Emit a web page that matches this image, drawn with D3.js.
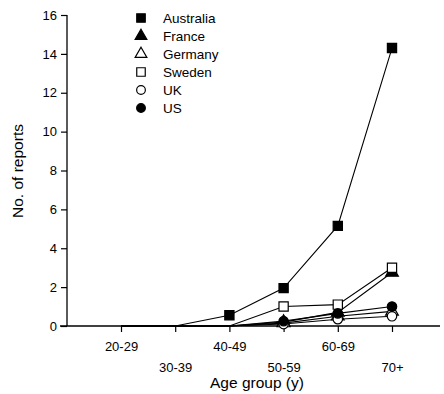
<!DOCTYPE html>
<html><head><meta charset="utf-8">
<script src="https://cdn.jsdelivr.net/npm/d3@7"></script>
<style>body{margin:0;background:#fff}svg{display:block}text{font-family:"Liberation Sans",Arial,sans-serif;fill:#000}</style>
</head><body><svg id="c" width="444" height="394"></svg>
<script>
const categories = ["20-29","30-39","40-49","50-59","60-69","70+"];
const countries = ["Australia","France","Germany","Sweden","UK","US"];
const australia = [0,0,0.55,1.95,5.15,14.3];
const france    = [0,0,0,0.2,0.7,2.75];
const germany   = [0,0,0,0.15,0.5,0.75];
const sweden    = [0,0,0,1.0,1.1,3.0];
const uk        = [0,0,0,0.1,0.35,0.5];
const us        = [0,0,0,0.25,0.65,1.0];
const yTicks = [0,2,4,6,8,10,12,14,16];

const seriesVals = [australia,france,germany,sweden,uk,us];
const symbols = [
  {type:d3.symbolSquare, fill:"#000", size:85},
  {type:d3.symbolTriangle, fill:"#000", size:70},
  {type:d3.symbolTriangle, fill:"#fff", size:70},
  {type:d3.symbolSquare, fill:"#fff", size:85},
  {type:d3.symbolCircle, fill:"#fff", size:70},
  {type:d3.symbolCircle, fill:"#000", size:70}
];

const svg = d3.select("#c");
const x = d3.scalePoint().domain(categories).range([121,392]);
const y = d3.scaleLinear().domain([0,16]).range([326,15]);

// y axis
const ya = svg.append("g").attr("transform","translate(67,0)")
  .call(d3.axisLeft(y).tickValues(yTicks).tickSize(6).tickPadding(4));
ya.select(".domain").attr("d","M0,15V326").attr("stroke","#000").attr("stroke-width",1.3);
ya.selectAll(".tick line").attr("stroke","#000").attr("stroke-width",1.2);
ya.selectAll(".tick text").attr("font-size",13).style("font-family","'Liberation Sans',Arial,sans-serif");

// x axis
const xa = svg.append("g").attr("transform","translate(0,326)")
  .call(d3.axisBottom(x).tickSize(6).tickFormat(""));
xa.select(".domain").attr("d","M60,0H440").attr("stroke","#000").attr("stroke-width",1.3);
xa.selectAll(".tick line").attr("stroke","#000").attr("stroke-width",1.2);
xa.selectAll(".tick").append("text")
  .attr("y",(d,i)=> i%2===0 ? 25 : 46)
  .attr("text-anchor","middle").attr("font-size",13)
  .style("font-family","'Liberation Sans',Arial,sans-serif")
  .text(d=>d);

// axis titles
svg.append("text").attr("x",257).attr("y",388).attr("text-anchor","middle").attr("font-size",15.5).text("Age group (y)");
svg.append("text").attr("transform","translate(23,171) rotate(-90)").attr("text-anchor","middle").attr("font-size",15.5).text("No. of reports");

// lines
const line = d3.line().x((d,i)=>x(categories[i])).y(d=>y(d));
seriesVals.forEach(v=>{
  svg.append("path").attr("d",line(v)).attr("fill","none").attr("stroke","#000").attr("stroke-width",1.1);
});
// markers
seriesVals.forEach((v,si)=>{
  const s = symbols[si];
  svg.append("g").selectAll("path").data(v.map((d,i)=>({d,i})).filter(p=>p.d>0)).join("path")
    .attr("transform",p=>`translate(${x(categories[p.i])},${y(p.d)})`)
    .attr("d",d3.symbol().type(s.type).size(s.size))
    .attr("fill",s.fill).attr("stroke","#000").attr("stroke-width",1.2);
});

// legend
const lg = svg.append("g");
countries.forEach((c,i)=>{
  const yy = 18 + i*18;
  const s = symbols[i];
  lg.append("path").attr("transform",`translate(141,${yy})`)
    .attr("d",d3.symbol().type(s.type).size(s.size*0.85))
    .attr("fill",s.fill).attr("stroke","#000").attr("stroke-width",1.2);
  lg.append("text").attr("x",163).attr("y",yy+5).attr("font-size",13.5).text(c);
});
</script></body></html>
